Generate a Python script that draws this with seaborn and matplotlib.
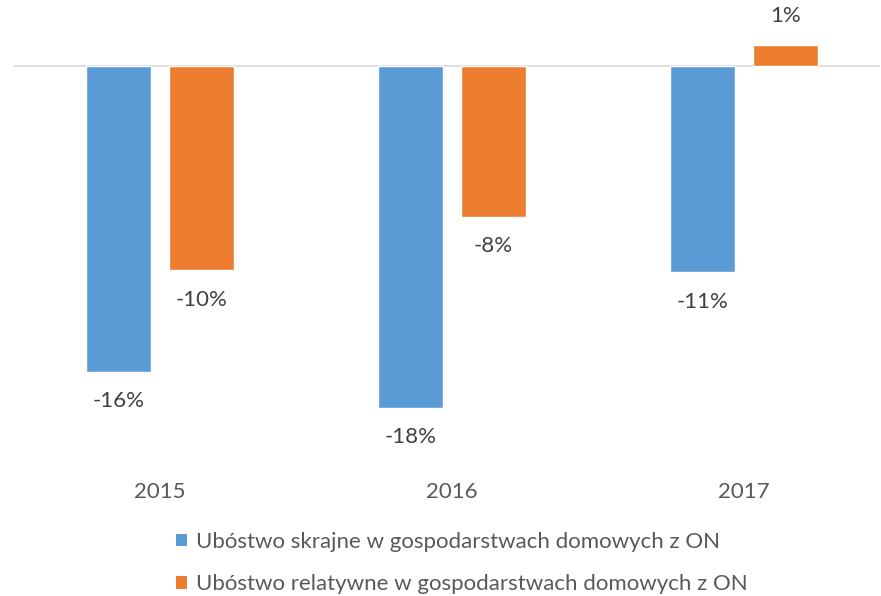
import matplotlib
matplotlib.use("Agg")
import matplotlib.pyplot as plt
import seaborn as sns
import pandas as pd
from matplotlib.patches import Patch

years = ["2015", "2016", "2017"]
series_names = ["Ubóstwo skrajne w gospodarstwach domowych z ON",
                "Ubóstwo relatywne w gospodarstwach domowych z ON"]
extreme = [-16.0, -17.9, -10.8]
relative = [-10.7, -7.9, 1.1]
extreme_labels = ["-16%", "-18%", "-11%"]
relative_labels = ["-10%", "-8%", "1%"]
colors = ["#5B9BD5", "#ED7D31"]

df = pd.DataFrame({
    "year": years * 2,
    "series": [series_names[0]] * 3 + [series_names[1]] * 3,
    "value": extreme + relative,
})

sns.set_theme(style="white")
plt.rcParams["font.family"] = ["Lato", "DejaVu Sans"]

W, H = 881, 596
fig = plt.figure(figsize=(W / 100, H / 100), dpi=100)
ax_bottom_px = 470
ax = fig.add_axes([14 / W, 1 - ax_bottom_px / H, (880 - 14) / W, ax_bottom_px / H])

sns.barplot(data=df, x="year", y="value", hue="series", palette=colors,
            width=0.568, gap=0.217, ax=ax, legend=False, saturation=1)

pxu = 292.0
ax.set_xlim(-146 / pxu, 2 + 136 / pxu)
scale = 19.1
ax.set_ylim(-(ax_bottom_px - 66) / scale, 66 / scale)

ax.axhline(0, color="#D9D9D9", lw=1.2, zorder=0.5)
for s in ax.spines.values():
    s.set_visible(False)
ax.set_yticks([])
ax.set_xlabel("")
ax.set_ylabel("")
ax.tick_params(axis="x", length=0, pad=9, labelsize=16, labelcolor="#595959")

for cont, labs in zip(ax.containers, [extreme_labels, relative_labels]):
    ax.bar_label(cont, labels=labs, padding=14, fontsize=16, color="#404040")

handles = [Patch(facecolor=c, edgecolor="none") for c in colors]
fig.legend(handles, series_names, loc="upper left",
           bbox_to_anchor=(176 / W, 1 - 532 / H), frameon=False,
           fontsize=16, labelcolor="#595959", handlelength=0.5,
           handleheight=0.5, handletextpad=0.4, labelspacing=1.0,
           borderpad=0, borderaxespad=0)

fig.savefig("out.png", dpi=100)
